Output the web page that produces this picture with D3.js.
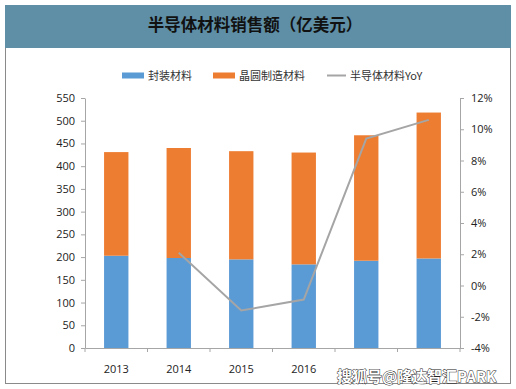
<!DOCTYPE html>
<html>
<head>
<meta charset="utf-8">
<script src="https://cdn.jsdelivr.net/npm/d3@7"></script>
<style>
  body { margin: 0; background: #fff; }
  svg { display: block; }
  .axis text { font-family: "Open Sans", sans-serif; font-size: 11px; fill: #222; }
  .axis path, .axis line { stroke: #a6a6a6; }
</style>
</head>
<body>
<div id="chart"></div>
<script>
// Data.
let years = ["2013", "2014", "2015", "2016", "2017", "2018"];
let packaging = [203, 198, 195, 184, 192, 197];     // 封装材料
let wafer = [228, 242, 238, 246, 276, 321];         // 晶圆制造材料
let yoy = [null, 2.1, -1.6, -0.9, 9.4, 10.6];       // 半导体材料YoY (%)
let leftTicks = [0, 50, 100, 150, 200, 250, 300, 350, 400, 450, 500, 550];
let rightTicks = [-4, -2, 0, 2, 4, 6, 8, 10, 12];
// The watermark covers the last two year labels in the picture.
let shownYears = ["2013", "2014", "2015", "2016"];

let W = 516, H = 389;
let plot = {left: 85, right: 460, top: 98, bottom: 348};

let svg = d3.select("#chart")
            .append("svg")
            .attr("width", W)
            .attr("height", H);

// Title banner and frame.
svg.append("rect")
   .attr("x", 5.5).attr("y", 47.5)
   .attr("width", 505).attr("height", 336)
   .attr("fill", "#fff")
   .attr("stroke", "#8a8a8a");

svg.append("rect")
   .attr("x", 5).attr("y", 5)
   .attr("width", 506).attr("height", 43)
   .attr("fill", "#5e8fa6");

svg.append("text")
   .attr("x", 255).attr("y", 31)
   .attr("text-anchor", "middle")
   .style("font-family", "'Noto Sans CJK SC', sans-serif")
   .style("font-size", "16.5px")
   .style("font-weight", "bold")
   .attr("fill", "#111")
   .text("半导体材料销售额（亿美元）");

// Scales.
let x = d3.scaleBand()
          .domain(years)
          .range([plot.left, plot.right])
          .paddingInner(0.61)
          .paddingOuter(0.305);

let yL = d3.scaleLinear().domain([0, 550]).range([plot.bottom, plot.top]);
let yR = d3.scaleLinear().domain([-4, 12]).range([plot.bottom, plot.top]);

let rows = years.map(function(d, i) {
    return {year: d, pack: packaging[i], wafer: wafer[i], yoy: yoy[i]};
});

// Bars.
svg.append("g")
   .selectAll("rect")
   .data(rows)
   .enter()
   .append("rect")
   .attr("x", function(d) { return x(d.year); })
   .attr("width", x.bandwidth())
   .attr("y", function(d) { return yL(d.pack); })
   .attr("height", function(d) { return yL(0) - yL(d.pack); })
   .attr("fill", "#5b9bd5");

svg.append("g")
   .selectAll("rect")
   .data(rows)
   .enter()
   .append("rect")
   .attr("x", function(d) { return x(d.year); })
   .attr("width", x.bandwidth())
   .attr("y", function(d) { return yL(d.pack + d.wafer); })
   .attr("height", function(d) { return yL(d.pack) - yL(d.pack + d.wafer); })
   .attr("fill", "#ed7d31");

// Axes.
svg.append("g")
   .attr("class", "axis")
   .attr("transform", "translate(" + plot.left + ",0)")
   .call(d3.axisLeft(yL).tickValues(leftTicks).tickSize(4).tickPadding(6).tickSizeOuter(0));

svg.append("g")
   .attr("class", "axis")
   .attr("transform", "translate(" + plot.right + ",0)")
   .call(d3.axisRight(yR).tickValues(rightTicks).tickSize(4).tickPadding(7).tickSizeOuter(0)
           .tickFormat(function(d) { return d + "%"; }));

let xAxis = svg.append("g")
   .attr("class", "axis")
   .attr("transform", "translate(0," + plot.bottom + ")")
   .call(d3.axisBottom(x).tickSize(0).tickPadding(17)
           .tickFormat(function(d) { return shownYears.indexOf(d) >= 0 ? d : ""; }));

// Category boundary ticks.
let bounds = years.map(function(d) { return x(d) - x.step() * x.paddingInner() / 2; });
bounds.push(plot.right);
xAxis.selectAll(".bound")
     .data(bounds)
     .enter()
     .append("line")
     .attr("x1", function(d) { return d; })
     .attr("x2", function(d) { return d; })
     .attr("y1", 0).attr("y2", 4)
     .attr("stroke", "#a6a6a6");

// YoY line.
svg.append("path")
   .datum(rows.filter(function(d) { return d.yoy !== null; }))
   .attr("fill", "none")
   .attr("stroke", "#a5a5a5")
   .attr("stroke-width", 2)
   .attr("d", d3.line()
        .x(function(d) { return x(d.year) + x.bandwidth() / 2; })
        .y(function(d) { return yR(d.yoy); }));

// Legend.
let legend = svg.append("g")
   .style("font-family", "'Noto Sans CJK SC', sans-serif")
   .style("font-size", "11px");

legend.append("rect").attr("x", 122).attr("y", 72.5).attr("width", 22).attr("height", 6).attr("fill", "#5b9bd5");
legend.append("text").attr("x", 148).attr("y", 80).attr("fill", "#333").text("封装材料");
legend.append("rect").attr("x", 213).attr("y", 72.5).attr("width", 22).attr("height", 6).attr("fill", "#ed7d31");
legend.append("text").attr("x", 239).attr("y", 80).attr("fill", "#333").text("晶圆制造材料");
legend.append("line").attr("x1", 327).attr("x2", 346).attr("y1", 75.5).attr("y2", 75.5)
      .attr("stroke", "#a5a5a5").attr("stroke-width", 2);
legend.append("text").attr("x", 350).attr("y", 80).attr("fill", "#333").text("半导体材料YoY");

// Watermark.
svg.append("text")
   .attr("x", 337).attr("y", 382)
   .style("font-family", "'Noto Sans CJK SC', sans-serif")
   .style("font-size", "15px")
   .style("font-weight", "bold")
   .attr("fill", "#fff")
   .attr("stroke", "#222")
   .attr("stroke-width", 0.9)
   .attr("paint-order", "stroke")
   .text("搜狐号@隆达智汇PARK");
</script>
</body>
</html>
